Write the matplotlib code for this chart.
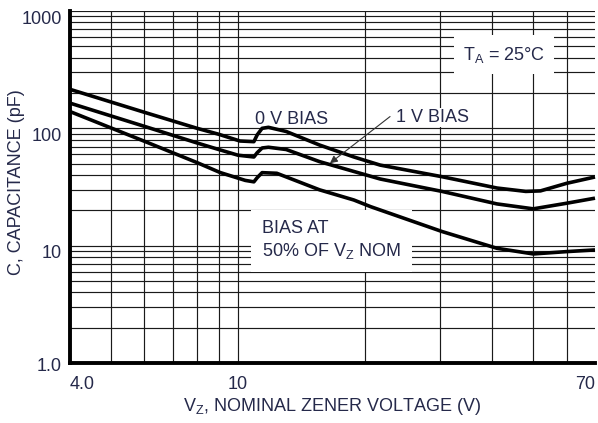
import matplotlib
matplotlib.use('Agg')
import matplotlib.pyplot as plt
from matplotlib.ticker import FixedLocator, LogLocator, NullFormatter
from matplotlib.transforms import ScaledTranslation

plt.rcParams['font.family'] = ['Liberation Sans', 'DejaVu Sans']
plt.rcParams['mathtext.fontset'] = 'custom'
plt.rcParams['mathtext.rm'] = 'Liberation Sans'
plt.rcParams['mathtext.it'] = 'Liberation Sans'
plt.rcParams['mathtext.default'] = 'regular'

ink = '#25294a'

# 0 V bias
vz_0v = [4, 6, 8, 9, 10.1, 10.9, 11.1, 11.4, 11.8, 13, 15.6, 18.8, 21.7, 30.4, 41, 48, 52, 60, 70]
c_0v = [215, 137, 100, 89, 78, 77, 88, 100, 102, 94, 72, 57, 48.6, 38.7, 31, 29, 29.3, 34, 38.5]

# 1 V bias
vz_1v = [4, 6, 8, 9, 10, 10.9, 11.1, 11.4, 11.8, 13, 15.6, 21.7, 30.4, 41, 50, 60, 70]
c_1v = [164, 104, 75, 66, 59, 57, 62, 68, 69, 66, 52, 37, 29, 22.7, 20.6, 23, 25.4]

# bias at 50% of Vz nom
vz_50 = [4, 6, 8, 9.07, 10.4, 10.9, 11.1, 11.4, 12.35, 15.6, 18.8, 20.6, 30.4, 41, 50, 60, 70]
c_50 = [139, 77.6, 51, 42, 36, 35, 38, 41.9, 41.4, 29.9, 24.5, 21.5, 13.2, 9.5, 8.5, 8.9, 9.2]

xticks = [4, 10, 70]
xticklabels = ['4.0', '10', '70']
yticks = [1, 10, 100, 1000]
yticklabels = ['1.0', '10', '100', '1000']

fig = plt.figure(figsize=(5.98, 4.23), dpi=100)
ax = fig.add_axes([70/598, 60/423, 525/598, 352/423])
ax.set_xscale('log')
ax.set_yscale('log')
ax.set_xlim(4, 70)
ax.set_ylim(1, 1000)

for v, c in [(vz_0v, c_0v), (vz_1v, c_1v), (vz_50, c_50)]:
    ax.plot(v, c, color='black', lw=2.6, solid_joinstyle='round',
            solid_capstyle='butt', zorder=4, clip_on=False)

ax.xaxis.set_major_locator(FixedLocator(xticks))
ax.set_xticklabels(xticklabels)
ax.xaxis.set_minor_locator(FixedLocator([5, 6, 7, 8, 9, 20, 30, 40, 50, 60]))
ax.xaxis.set_minor_formatter(NullFormatter())
ax.yaxis.set_major_locator(FixedLocator(yticks))
ax.set_yticklabels(yticklabels)
ax.yaxis.set_minor_locator(LogLocator(base=10, subs=range(2, 10)))
ax.yaxis.set_minor_formatter(NullFormatter())

ax.set_axisbelow(True)
ax.grid(which='both', color='#1a1a1a', lw=0.85)
ax.xaxis.get_major_ticks()[-1].gridline.set_visible(False)

ax.tick_params(which='both', length=0, labelsize=13, labelcolor=ink)
ax.tick_params(axis='x', pad=9)
ax.tick_params(axis='y', pad=6)

xl = ax.get_xticklabels()
xl[0].set_ha('left')
xl[-1].set_ha('right')
for i, lab in enumerate(ax.get_yticklabels()):
    dy = -1 if i == 0 else -6
    lab.set_transform(lab.get_transform() + ScaledTranslation(0, dy/100, fig.dpi_scale_trans))

for s in ['top', 'right']:
    ax.spines[s].set_visible(False)
for s in ['left', 'bottom']:
    ax.spines[s].set_linewidth(2.8)
    ax.spines[s].set_capstyle('projecting')

ax.set_xlabel('V$_Z$, NOMINAL ZENER VOLTAGE (V)', fontsize=13, color=ink)
ax.xaxis.set_label_coords(0.5, -0.094)
ax.set_ylabel('C, CAPACITANCE (pF)', fontsize=13, color=ink)
ax.yaxis.set_label_coords(-0.086, 0.515)

box = dict(boxstyle='square,pad=0.5', fc='white', ec='none')
ax.text(34.1, 386, 'T$_A$ = 25°C', fontsize=13, color=ink, va='baseline', bbox=box, zorder=3)
ax.text(10.97, 108, '0 V BIAS', fontsize=13, color=ink, va='baseline', zorder=3)
ax.text(23.7, 114, '1 V BIAS', fontsize=13, color=ink, va='baseline', zorder=3,
        bbox=dict(boxstyle='square,pad=0.05', fc='white', ec='none'))
ax.annotate('', xy=(16.5, 50.4), xytext=(22.9, 126),
            arrowprops=dict(arrowstyle='-|>', color='#333333', lw=0.8,
                            mutation_scale=11, shrinkA=0, shrinkB=0), zorder=5)
ax.text(11.4, 8.09, 'BIAS AT\n50% OF V$_Z$ NOM', fontsize=13, color=ink, va='baseline',
        linespacing=1.3, zorder=3,
        bbox=dict(boxstyle='square,pad=0.6', fc='white', ec='none'))

fig.savefig('out.png', dpi=100)
